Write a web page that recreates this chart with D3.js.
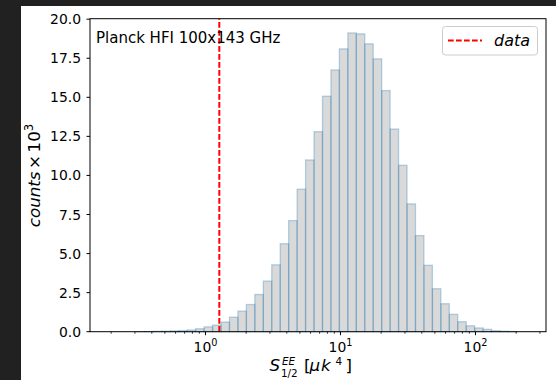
<!DOCTYPE html>
<html>
<head>
<meta charset="utf-8">
<script src="https://cdn.jsdelivr.net/npm/d3@7"></script>
<style>
  html, body { margin: 0; padding: 0; background: #212121; }
  svg { display: block; }
  text { font-family: "DejaVu Sans", sans-serif; }
</style>
</head>
<body>
<svg id="chart" width="556" height="380"></svg>
<script>
// ---- data ----
const binEdges = [0.3080, 0.3557, 0.4109, 0.4747, 0.5483, 0.6333, 0.7316, 0.8451, 0.9761, 1.1275,
  1.3024, 1.5045, 1.7381, 2.0077, 2.3190, 2.6792, 3.0948, 3.5750, 4.1295, 4.7709,
  5.5106, 6.3654, 7.3536, 8.4918, 9.8085, 11.331, 13.089, 15.118, 17.463, 20.174,
  23.301, 26.915, 31.096, 35.918, 41.486, 47.93, 55.37, 63.95, 73.86, 85.33,
  98.56, 113.85, 131.52, 151.92, 175.48, 202.7];
const counts = [0.005, 0.01, 0.02, 0.03, 0.05, 0.07, 0.11, 0.19, 0.31, 0.42,
  0.62, 0.93, 1.32, 1.74, 2.38, 3.24, 4.28, 5.63, 7.11, 9.12,
  10.99, 12.80, 15.07, 16.75, 18.10, 19.12, 19.06, 18.42, 17.46, 15.43,
  12.97, 10.65, 8.18, 6.15, 4.25, 2.75, 1.79, 1.11, 0.64, 0.38,
  0.24, 0.15, 0.06, 0.03, 0.01];
const dataValue = 1.265;
const yTicks = [0, 2.5, 5, 7.5, 10, 12.5, 15, 17.5, 20];
const xMajorTicks = [1, 10, 100];
const xMajorExp = ["0", "1", "2"];
const xMinorTicks = [0.2,0.3,0.4,0.5,0.6,0.7,0.8,0.9,2,3,4,5,6,7,8,9,20,30,40,50,60,70,80,90,200,300];
const titleText = "Planck HFI 100x143 GHz";
const legendLabel = "data";

// ---- layout ----
const L = 90, R = 546, T = 18.7, B = 331.7;
const FS = 13.9;
const LFS = 16.7;
const SFS = 10.4;
const svg = d3.select("#chart");
svg.append("rect").attr("x", 21).attr("y", 6).attr("width", 535).attr("height", 374).attr("fill", "#ffffff");

const x = d3.scaleLog().domain([0.1394, 332.8]).range([L, R]);
const y = d3.scaleLinear().domain([0, 20.03]).range([B, T]);

const bins = counts.map((c, i) => ({x0: binEdges[i], x1: binEdges[i + 1], c}));

// bars
svg.append("g").selectAll("rect").data(bins).join("rect")
  .attr("x", d => x(d.x0))
  .attr("width", d => x(d.x1) - x(d.x0))
  .attr("y", d => y(d.c))
  .attr("height", d => y(0) - y(d.c))
  .attr("fill", "gray").attr("fill-opacity", 0.3)
  .attr("stroke", "#1f77b4").attr("stroke-opacity", 0.3).attr("stroke-width", 1.3);

// data line
svg.append("line")
  .attr("x1", x(dataValue)).attr("x2", x(dataValue))
  .attr("y1", B).attr("y2", T)
  .attr("stroke", "red").attr("stroke-width", 2)
  .attr("stroke-dasharray", "5.7,2.3");

// spines
const sp = svg.append("g").attr("stroke", "#000").attr("stroke-width", 1).attr("fill", "none");
sp.append("rect").attr("x", L).attr("y", T).attr("width", R - L).attr("height", B - T);

// y ticks
const yt = svg.append("g");
yTicks.forEach(v => {
  yt.append("line").attr("x1", L - 3.5).attr("x2", L).attr("y1", y(v)).attr("y2", y(v))
    .attr("stroke", "#000").attr("stroke-width", 1);
  yt.append("text").attr("x", 81).attr("y", y(v)).attr("dy", "0.36em")
    .attr("text-anchor", "end").attr("font-size", FS).attr("fill", "#000")
    .text(v.toFixed(1));
});

// x ticks
const xt = svg.append("g");
xMinorTicks.forEach(v => {
  xt.append("line").attr("x1", x(v)).attr("x2", x(v)).attr("y1", B).attr("y2", B + 2)
    .attr("stroke", "#000").attr("stroke-width", 0.8);
});
xMajorTicks.forEach((v, i) => {
  xt.append("line").attr("x1", x(v)).attr("x2", x(v)).attr("y1", B).attr("y2", B + 3.5)
    .attr("stroke", "#000").attr("stroke-width", 1);
  const t = xt.append("text").attr("x", x(v)).attr("y", 351.7)
    .attr("text-anchor", "middle").attr("font-size", FS).attr("fill", "#000");
  t.append("tspan").text("10");
  t.append("tspan").attr("font-size", FS * 0.7).attr("dy", -5.5).text(xMajorExp[i]);
});

// title text in axes
svg.append("text").attr("x", 96).attr("y", 43).attr("font-size", 15).attr("fill", "#000").text(titleText);

// x label: S^{EE}_{1/2} [μk^4]
(function () {
  const g = svg.append("g").attr("transform", "translate(0,371)");
  const pieces = [
    {s: "S", x: 269.5, dy: 0, size: LFS, it: true},
    {s: "EE", x: 282, dy: -6, size: SFS, it: true},
    {s: "1/2", x: 281, dy: 6.2, size: SFS, it: false},
    {s: "[", x: 304, dy: 0, size: LFS, it: false},
    {s: "\u03BC", x: 309.5, dy: 0, size: LFS, it: true},
    {s: "k", x: 321, dy: 0, size: LFS, it: true},
    {s: "4", x: 335.5, dy: -6, size: SFS, it: false},
    {s: "]", x: 345.5, dy: 0, size: LFS, it: false}
  ];
  pieces.forEach(p => {
    g.append("text").attr("x", p.x).attr("y", p.dy).attr("font-size", p.size)
      .attr("font-style", p.it ? "italic" : "normal").attr("fill", "#000").text(p.s);
  });
})();

// y label: counts × 10^3 (rotated)
(function () {
  const t = svg.append("text")
    .attr("transform", "translate(39.5,175.5) rotate(-90)")
    .attr("text-anchor", "middle").attr("font-size", LFS).attr("fill", "#000");
  t.append("tspan").attr("font-style", "italic").text("counts");
  t.append("tspan").attr("dx", 2.5).text("\u00D7");
  t.append("tspan").attr("dx", 2.5).text("10");
  t.append("tspan").attr("font-size", LFS * 0.7).attr("dy", -7).text("3");
})();

// legend
(function () {
  const g = svg.append("g");
  g.append("rect").attr("x", 442.5).attr("y", 26.5).attr("width", 95).attr("height", 28.5)
    .attr("rx", 3).attr("fill", "#fff").attr("fill-opacity", 0.8)
    .attr("stroke", "#cccccc").attr("stroke-width", 1);
  g.append("line").attr("x1", 448).attr("x2", 482).attr("y1", 40.5).attr("y2", 40.5)
    .attr("stroke", "red").attr("stroke-width", 2).attr("stroke-dasharray", "5.7,2.3");
  g.append("text").attr("x", 494).attr("y", 45.5).attr("font-size", 16).attr("font-style", "italic")
    .attr("fill", "#000").text(legendLabel);
})();
</script>
</body>
</html>
